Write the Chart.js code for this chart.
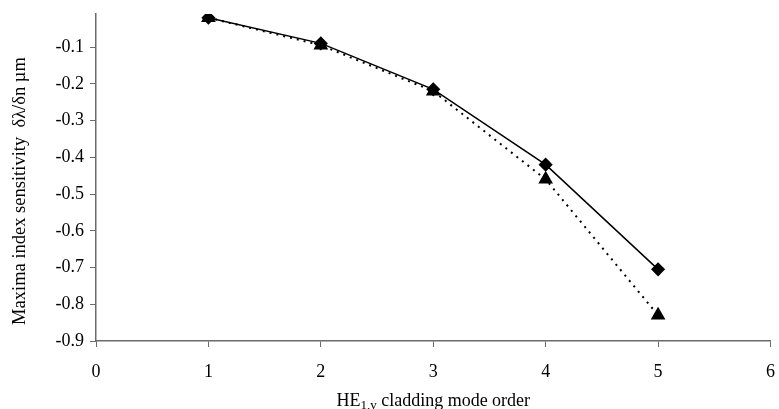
<!DOCTYPE html>
<html>
<head>
<meta charset="utf-8">
<script src="https://cdn.jsdelivr.net/npm/chart.js@4/dist/chart.umd.min.js"></script>
<style>
  html, body { margin: 0; padding: 0; background: #fff; }
  #wrap { width: 779px; height: 409px; }
</style>
</head>
<body>
<div id="wrap"><canvas id="sensChart" width="779" height="409"></canvas></div>
<script>
const modeOrder = [1, 2, 3, 4, 5];
const sensDiamond = [-0.02, -0.09, -0.215, -0.42, -0.705];
const sensTriangle = [-0.02, -0.095, -0.22, -0.46, -0.83];
const xTicks = [0, 1, 2, 3, 4, 5, 6];
const yTicks = [-0.9, -0.8, -0.7, -0.6, -0.5, -0.4, -0.3, -0.2, -0.1];

const FONT = "'Liberation Serif', 'Times New Roman', serif";
const AXIS = "#6b6b6b";

// axis titles drawn by hand: the x title needs a subscript
const axisTitles = {
  id: "axisTitles",
  afterDraw(chart) {
    const ctx = chart.ctx;
    const area = chart.chartArea;
    ctx.save();
    ctx.fillStyle = "#000";
    ctx.textBaseline = "alphabetic";

    // x title: HE with subscript 1,v
    const big = "18px " + FONT, small = "13px " + FONT;
    ctx.font = big;
    const wHE = ctx.measureText("HE").width;
    const rest = " cladding mode order";
    const wRest = ctx.measureText(rest).width;
    ctx.font = small;
    const wSub = ctx.measureText("1,v").width;
    const total = wHE + wSub + wRest;
    let x = (area.left + area.right) / 2 - total / 2;
    const yBase = 406;
    ctx.textAlign = "left";
    ctx.font = big;
    ctx.fillText("HE", x, yBase);
    x += wHE;
    ctx.font = small;
    ctx.fillText("1,v", x, yBase + 3);
    x += wSub;
    ctx.font = big;
    ctx.fillText(rest, x, yBase);

    // y title, rotated
    ctx.translate(20, 191);
    ctx.rotate(-Math.PI / 2);
    ctx.textAlign = "center";
    ctx.textBaseline = "middle";
    ctx.font = "18.5px " + FONT;
    ctx.fillText("Maxima index sensitivity  \u03b4\u03bb/\u03b4n \u00b5m", 0, 0);
    ctx.restore();
  }
};

new Chart(document.getElementById("sensChart"), {
  type: "scatter",
  data: {
    datasets: [
      {
        label: "diamond",
        data: modeOrder.map((m, i) => ({ x: m, y: sensDiamond[i] })),
        showLine: true,
        borderColor: "#000",
        backgroundColor: "#000",
        borderWidth: 1.5,
        pointStyle: "rectRot",
        pointRadius: 6,
        pointHoverRadius: 6,
        tension: 0
      },
      {
        label: "triangle",
        data: modeOrder.map((m, i) => ({ x: m, y: sensTriangle[i] })),
        showLine: true,
        borderColor: "#000",
        backgroundColor: "#000",
        borderWidth: 2,
        borderDash: [2, 5],
        pointStyle: "triangle",
        pointRadius: 6.5,
        pointHoverRadius: 6.5,
        tension: 0
      }
    ]
  },
  options: {
    responsive: false,
    animation: false,
    layout: { padding: { left: 0, top: 14, right: 6, bottom: 0 } },
    plugins: {
      legend: { display: false },
      tooltip: { enabled: false }
    },
    scales: {
      x: {
        type: "linear",
        min: 0,
        max: 6,
        afterBuildTicks: s => { s.ticks = xTicks.map(v => ({ value: v })); },
        afterFit: s => { s.height = 68; s.paddingLeft = 0; s.paddingRight = 0; },
        grid: { drawOnChartArea: false, color: AXIS, tickLength: 6, tickColor: AXIS },
        border: { color: AXIS, width: 1.5 },
        ticks: { color: "#000", font: { family: FONT, size: 18 }, padding: 14 }
      },
      y: {
        type: "linear",
        min: -0.9,
        max: -0.01,
        afterBuildTicks: s => { s.ticks = yTicks.map(v => ({ value: v })); },
        afterFit: s => { s.width = 96; s.paddingTop = 0; s.paddingBottom = 0; },
        grid: { drawOnChartArea: false, color: AXIS, tickLength: 6, tickColor: AXIS },
        border: { color: AXIS, width: 1.5 },
        ticks: {
          color: "#000",
          font: { family: FONT, size: 18 },
          padding: 6,
          callback: v => v.toFixed(1)
        }
      }
    }
  },
  plugins: [axisTitles]
});
</script>
</body>
</html>
